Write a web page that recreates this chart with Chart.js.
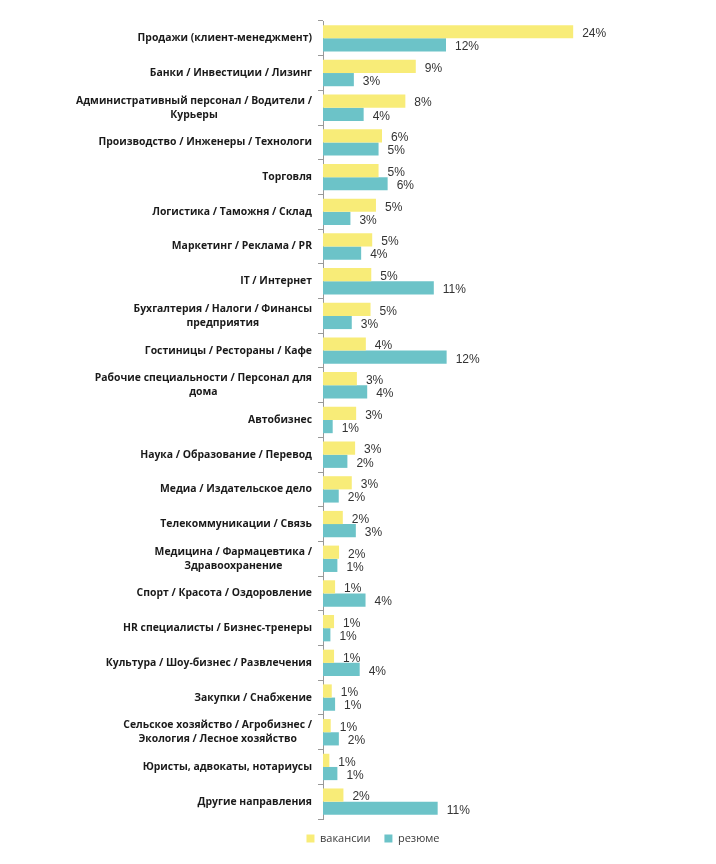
<!DOCTYPE html>
<html>
<head>
<meta charset="utf-8">
<script src="https://cdn.jsdelivr.net/npm/chart.js@4"></script>
<style>
  html, body { margin: 0; padding: 0; background: #fff; }
  #wrap { width: 716px; height: 864px; }
</style>
</head>
<body>
<div id="wrap"><canvas id="chart" width="716" height="864"></canvas></div>
<script>
// Categories (multi-line ones are arrays)
const categories = [
    'Продажи (клиент-менеджмент)',
    'Банки / Инвестиции / Лизинг',
    ['Административный персонал / Водители /', 'Курьеры'],
    'Производство / Инженеры / Технологи',
    'Торговля',
    'Логистика / Таможня / Склад',
    'Маркетинг / Реклама / PR',
    'IT / Интернет',
    ['Бухгалтерия / Налоги / Финансы', 'предприятия'],
    'Гостиницы / Рестораны / Кафе',
    ['Рабочие специальности / Персонал для', 'дома'],
    'Автобизнес',
    'Наука / Образование / Перевод',
    'Медиа / Издательское дело',
    'Телекоммуникации / Связь',
    ['Медицина / Фармацевтика /', 'Здравоохранение'],
    'Спорт / Красота / Оздоровление',
    'HR специалисты / Бизнес-тренеры',
    'Культура / Шоу-бизнес / Развлечения',
    'Закупки / Снабжение',
    ['Сельское хозяйство / Агробизнес /', 'Экология / Лесное хозяйство'],
    'Юристы, адвокаты, нотариусы',
    'Другие направления'
];

// Share of vacancies and resumes, %
const vacancies = [24.0, 8.9, 7.9, 5.66, 5.33, 5.08, 4.72, 4.63, 4.56, 4.11, 3.25, 3.18, 3.08, 2.76, 1.9, 1.54, 1.16, 1.06, 1.06, 0.84, 0.74, 0.61, 1.96];
const resumes   = [11.8, 2.96, 3.9, 5.33, 6.2, 2.63, 3.66, 10.63, 2.76, 11.86, 4.24, 0.93, 2.34, 1.51, 3.15, 1.38, 4.08, 0.71, 3.52, 1.16, 1.52, 1.38, 11.0];

const seriesNames = ['вакансии', 'резюме'];
const YELLOW = '#f8ec78';
const TEAL = '#6cc3c8';

// Draws the "NN%" labels right of each bar
const valueLabels = {
    id: 'valueLabels',
    afterDatasetsDraw(chart) {
        const ctx = chart.ctx;
        ctx.save();
        ctx.font = '12px "Liberation Sans", Arial, sans-serif';
        ctx.fillStyle = '#333';
        ctx.textAlign = 'left';
        ctx.textBaseline = 'middle';
        chart.data.datasets.forEach((ds, i) => {
            chart.getDatasetMeta(i).data.forEach((bar, j) => {
                ctx.fillText(Math.round(ds.data[j]) + '%', bar.x + 9, bar.y + 2);
            });
        });
        ctx.restore();
    }
};

// Category names: block right-aligned to the axis, lines centered inside the block
const categoryLabels = {
    id: 'categoryLabels',
    afterDraw(chart) {
        const ctx = chart.ctx;
        const yScale = chart.scales.y;
        const right = yScale.right - 11;
        const lineH = 14;
        ctx.save();
        ctx.font = 'bold 10.4px "Open Sans", sans-serif';
        ctx.fillStyle = '#1a1a1a';
        ctx.textBaseline = 'middle';
        ctx.textAlign = 'center';
        categories.forEach((c, i) => {
            const lines = Array.isArray(c) ? c : [c];
            const w = Math.max(...lines.map(l => ctx.measureText(l).width));
            const cx = right - w / 2;
            const y0 = yScale.getPixelForValue(i) - (lines.length - 1) * lineH / 2;
            lines.forEach((l, k) => ctx.fillText(l, cx, y0 + k * lineH));
        });
        ctx.restore();
    }
};

new Chart(document.getElementById('chart'), {
    type: 'bar',
    data: {
        labels: categories,
        datasets: [
            { label: seriesNames[0], data: vacancies, backgroundColor: YELLOW },
            { label: seriesNames[1], data: resumes, backgroundColor: TEAL }
        ]
    },
    options: {
        indexAxis: 'y',
        responsive: false,
        animation: false,
        datasets: { bar: { categoryPercentage: 0.76, barPercentage: 1.0 } },
        layout: { padding: { left: 30, right: 0, top: 21, bottom: 10 } },
        scales: {
            x: { display: false, min: 0, max: 37.7 },
            y: {
                afterFit(scale) { scale.width = 293; },
                ticks: { display: false },
                grid: { drawOnChartArea: false, drawTicks: true, tickLength: 5, color: '#999' },
                border: { display: true, color: '#999' }
            }
        },
        plugins: {
            legend: {
                position: 'bottom',
                labels: {
                    boxWidth: 8,
                    boxHeight: 8,
                    padding: 14,
                    color: '#3a3a3a',
                    font: { family: '"Open Sans", sans-serif', size: 11 }
                }
            },
            tooltip: { enabled: false }
        }
    },
    plugins: [valueLabels, categoryLabels]
});
</script>
</body>
</html>
